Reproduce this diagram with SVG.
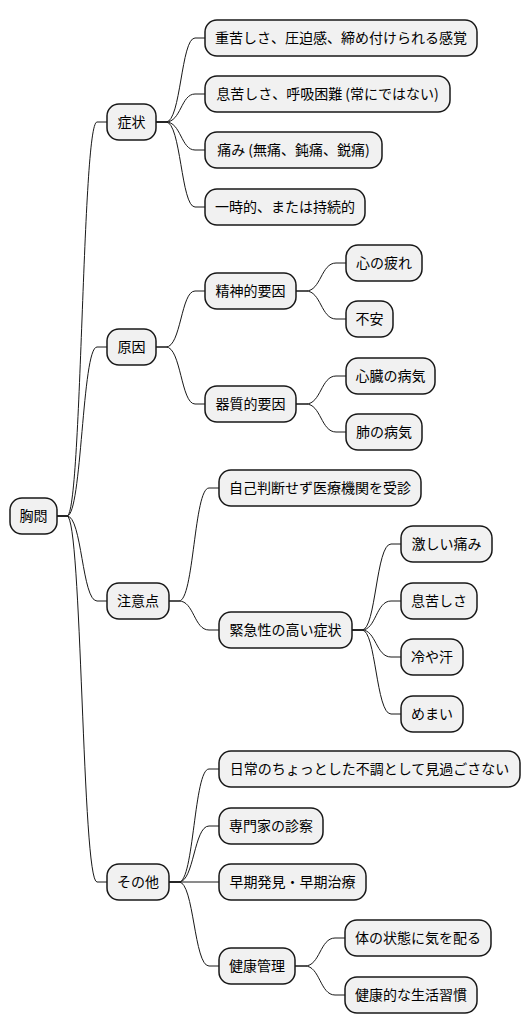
<svg xmlns="http://www.w3.org/2000/svg" width="530" height="1034" viewBox="0 0 530 1034">
<style>
.n rect{fill:#F1F1F1;stroke:#181818;stroke-width:1.5}
.n text{font-family:"Noto Sans CJK JP","Noto Sans",sans-serif;font-size:14px;fill:#000;text-anchor:middle}
#edges path{fill:none;stroke:#181818;stroke-width:1}
</style>
<rect width="530" height="1034" fill="#FFFFFF"/>
<g id="edges">
<path d="M57,516 L67,516 C82,516 82,122 97,122 L107,122"/>
<path d="M57,516 L67,516 C82,516 82,347 97,347 L107,347"/>
<path d="M57,516 L67,516 C82,516 82,601 97,601 L107,601"/>
<path d="M57,516 L67,516 C82,516 82,882 97,882 L107,882"/>
<path d="M156,122 L166,122 C181,122 181,38 195,38 L205,38"/>
<path d="M156,122 L166,122 C181,122 181,94 195,94 L205,94"/>
<path d="M156,122 L166,122 C181,122 181,150 195,150 L205,150"/>
<path d="M156,122 L166,122 C181,122 181,207 195,207 L205,207"/>
<path d="M156,347 L166,347 C181,347 181,291 195,291 L205,291"/>
<path d="M156,347 L166,347 C181,347 181,404 195,404 L205,404"/>
<path d="M296,291 L306,291 C321,291 321,263 336,263 L346,263"/>
<path d="M296,291 L306,291 C321,291 321,319 336,319 L346,319"/>
<path d="M296,404 L306,404 C321,404 321,376 336,376 L346,376"/>
<path d="M296,404 L306,404 C321,404 321,432 336,432 L346,432"/>
<path d="M169,601 L179,601 C194,601 194,488 209,488 L219,488"/>
<path d="M169,601 L179,601 C194,601 194,630 209,630 L219,630"/>
<path d="M352,630 L362,630 C376,630 376,544 391,544 L401,544"/>
<path d="M352,630 L362,630 C376,630 376,601 391,601 L401,601"/>
<path d="M352,630 L362,630 C376,630 376,657 391,657 L401,657"/>
<path d="M352,630 L362,630 C376,630 376,714 391,714 L401,714"/>
<path d="M169,882 L179,882 C194,882 194,769 209,769 L219,769"/>
<path d="M169,882 L179,882 C194,882 194,826 209,826 L219,826"/>
<path d="M169,882 L219,882"/>
<path d="M169,882 L179,882 C194,882 194,966 209,966 L219,966"/>
<path d="M295,966 L305,966 C320,966 320,938 335,938 L345,938"/>
<path d="M295,966 L305,966 C320,966 320,995 335,995 L345,995"/>
</g>
<g id="root" class="n"><rect x="10" y="498" width="47" height="36" rx="12"/><text x="33.5" y="521">胸悶</text></g>
<g id="n1" class="n"><rect x="107" y="104" width="49" height="36" rx="12"/><text x="131.5" y="127">症状</text></g>
<g id="n1a" class="n"><rect x="205" y="20" width="272" height="36" rx="12"/><text x="341" y="43">重苦しさ、圧迫感、締め付けられる感覚</text></g>
<g id="n1b" class="n"><rect x="205" y="76" width="245" height="36" rx="12"/><text x="327.5" y="99">息苦しさ、呼吸困難 (常にではない)</text></g>
<g id="n1c" class="n"><rect x="205" y="132" width="177" height="36" rx="12"/><text x="293.5" y="155">痛み (無痛、鈍痛、鋭痛)</text></g>
<g id="n1d" class="n"><rect x="205" y="189" width="160" height="36" rx="12"/><text x="285" y="212">一時的、または持続的</text></g>
<g id="n2" class="n"><rect x="107" y="329" width="49" height="36" rx="12"/><text x="131.5" y="352">原因</text></g>
<g id="n2a" class="n"><rect x="205" y="273" width="91" height="36" rx="12"/><text x="250.5" y="296">精神的要因</text></g>
<g id="n2a1" class="n"><rect x="346" y="245" width="76" height="36" rx="12"/><text x="384" y="268">心の疲れ</text></g>
<g id="n2a2" class="n"><rect x="346" y="301" width="47" height="36" rx="12"/><text x="369.5" y="324">不安</text></g>
<g id="n2b" class="n"><rect x="205" y="386" width="91" height="36" rx="12"/><text x="250.5" y="409">器質的要因</text></g>
<g id="n2b1" class="n"><rect x="346" y="358" width="89" height="36" rx="12"/><text x="390.5" y="381">心臓の病気</text></g>
<g id="n2b2" class="n"><rect x="346" y="414" width="76" height="36" rx="12"/><text x="384" y="437">肺の病気</text></g>
<g id="n3" class="n"><rect x="107" y="583" width="62" height="36" rx="12"/><text x="138" y="606">注意点</text></g>
<g id="n3a" class="n"><rect x="219" y="470" width="202" height="36" rx="12"/><text x="320" y="493">自己判断せず医療機関を受診</text></g>
<g id="n3b" class="n"><rect x="219" y="612" width="133" height="36" rx="12"/><text x="285.5" y="635">緊急性の高い症状</text></g>
<g id="n3b1" class="n"><rect x="401" y="526" width="91" height="36" rx="12"/><text x="446.5" y="549">激しい痛み</text></g>
<g id="n3b2" class="n"><rect x="401" y="583" width="76" height="36" rx="12"/><text x="439" y="606">息苦しさ</text></g>
<g id="n3b3" class="n"><rect x="401" y="639" width="62" height="36" rx="12"/><text x="432" y="662">冷や汗</text></g>
<g id="n3b4" class="n"><rect x="401" y="696" width="62" height="36" rx="12"/><text x="432" y="719">めまい</text></g>
<g id="n4" class="n"><rect x="107" y="864" width="62" height="36" rx="12"/><text x="138" y="887">その他</text></g>
<g id="n4a" class="n"><rect x="219" y="751" width="301" height="36" rx="12"/><text x="369.5" y="774">日常のちょっとした不調として見過ごさない</text></g>
<g id="n4b" class="n"><rect x="219" y="808" width="104" height="36" rx="12"/><text x="271" y="831">専門家の診察</text></g>
<g id="n4c" class="n"><rect x="219" y="864" width="147" height="36" rx="12"/><text x="292.5" y="887">早期発見・早期治療</text></g>
<g id="n4d" class="n"><rect x="219" y="948" width="76" height="36" rx="12"/><text x="257" y="971">健康管理</text></g>
<g id="n4d1" class="n"><rect x="345" y="920" width="146" height="36" rx="12"/><text x="418" y="943">体の状態に気を配る</text></g>
<g id="n4d2" class="n"><rect x="345" y="977" width="132" height="36" rx="12"/><text x="411" y="1000">健康的な生活習慣</text></g>
</svg>
